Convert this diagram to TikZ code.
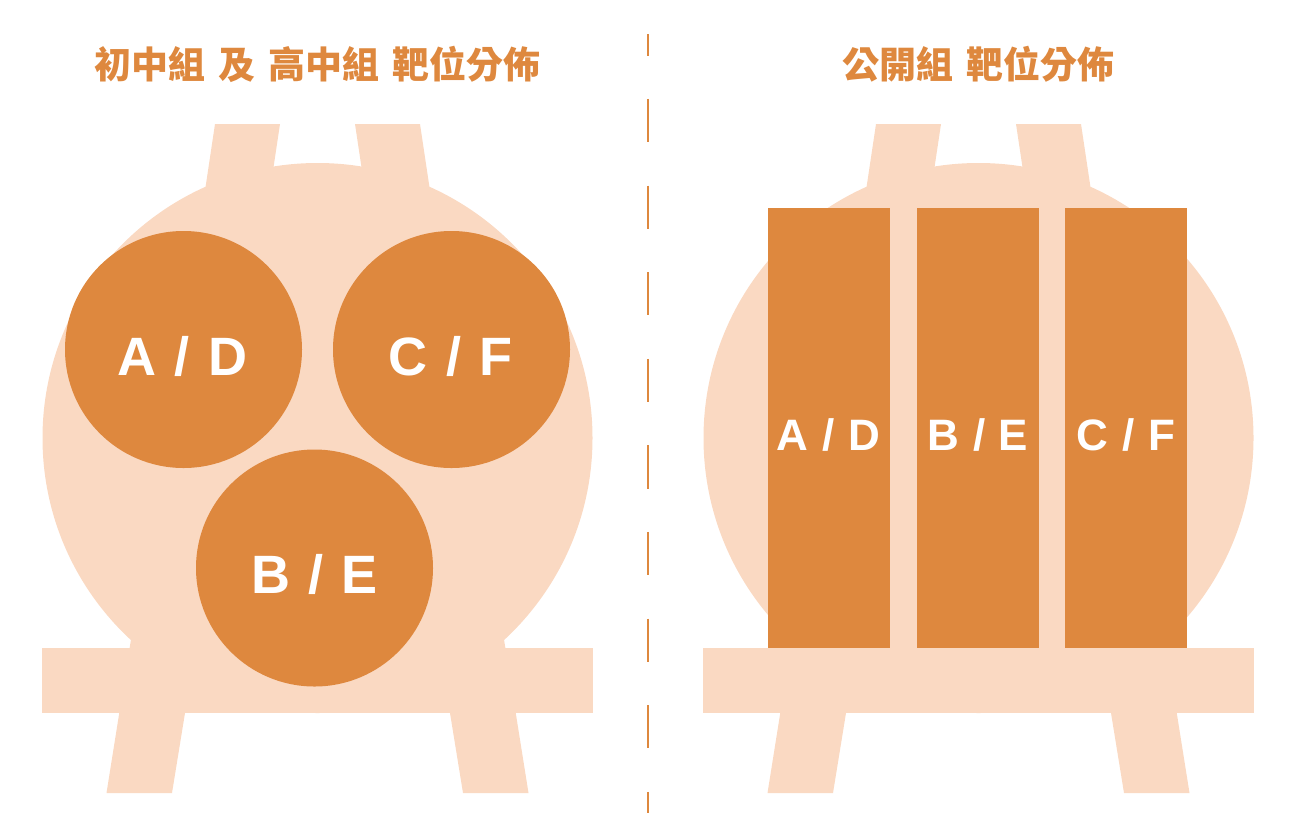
\documentclass[tikz,border=0pt]{standalone}
\usepackage{fontspec}
\setmainfont{Liberation Sans}
\newfontfamily\cjkfont{Noto Sans CJK TC}
\definecolor{orng}{HTML}{DE883E}
\definecolor{peach}{HTML}{FAD9C2}
\newcommand{\lblsp}{\hspace{0.335em}}
\newcommand{\smlsp}{\hspace{0.31em}}
\newcommand{\ttlsp}{\hspace{0.36em}}
\tikzset{
  body/.style={fill=peach},
  tcircle/.style={circle, fill=orng, draw=none, minimum size=237pt, inner sep=0pt},
  tbar/.style={rectangle, fill=orng, draw=none, minimum width=122pt, minimum height=440pt, inner sep=0pt},
  biglbl/.style={text=white, font=\fontsize{54}{54}\selectfont\bfseries, inner sep=0pt, anchor=base},
  smalllbl/.style={text=white, font=\fontsize{44}{44}\selectfont\bfseries, inner sep=0pt, anchor=base},
  ttl/.style={text=orng, font=\cjkfont\bfseries\fontsize{37}{37}\selectfont, inner sep=0pt, anchor=center},
  divider/.style={draw=orng, line width=1.8pt, dash pattern=on 43.3pt off 43.3pt, dash phase=21.65pt}
}
\newcommand{\standshape}{%
  \fill[body] (-102.5,124) -- (-37.5,124) -- (-50.4,210) -- (-115.4,210) -- cycle;
  \fill[body] (37.5,124) -- (102.5,124) -- (115.4,210) -- (50.4,210) -- cycle;
  \fill[body] (0,438) circle[radius=275pt];
  \fill[body] (-275.5,648) rectangle (275,713);
  \fill[body] (-185,630) -- (-119,630) -- (-145.5,793) -- (-211,793) -- cycle;
  \fill[body] (119,630) -- (185,630) -- (211,793) -- (145.5,793) -- cycle;
}
\begin{document}
\begin{tikzpicture}[x=1pt,y=-1pt]
\useasboundingbox (0,0) rectangle (1295,836);
% left stand
\begin{scope}[shift={(317.5,0)}]
  \standshape
\end{scope}
% right stand
\begin{scope}[shift={(978.5,0)}]
  \standshape
\end{scope}

% titles
\node[ttl] (t1) at (317.5,64.7) {初中組\ttlsp 及\ttlsp 高中組\ttlsp 靶位分佈};
\node[ttl] (t2) at (978.5,64.7) {公開組\ttlsp 靶位分佈};

% divider
\coordinate (dtop) at (648,34);
\coordinate (dbot) at (648,813);
\draw[divider] (dtop) -- (dbot);

% left targets
\node[tcircle] (cad) at (183.5,349.5) {};
\node[tcircle] (ccf) at (451.5,349.5) {};
\node[tcircle] (cbe) at (314.5,568) {};
\node[biglbl] (lad) at (182.5,375) {A\lblsp/\lblsp D};
\node[biglbl] (lcf) at (450.5,375) {C\lblsp/\lblsp F};
\node[biglbl] (lbe) at (314.5,593.5) {B\lblsp/\lblsp E};

% right targets
\node[tbar] (rad) at (829,428) {};
\node[tbar] (rbe) at (978,428) {};
\node[tbar] (rcf) at (1126,428) {};
\node[smalllbl] (sad) at (828.5,450) {A\smlsp/\smlsp D};
\node[smalllbl] (sbe) at (978,450) {B\smlsp/\smlsp E};
\node[smalllbl] (scf) at (1126,450) {C\smlsp/\smlsp F};
\end{tikzpicture}
\end{document}
